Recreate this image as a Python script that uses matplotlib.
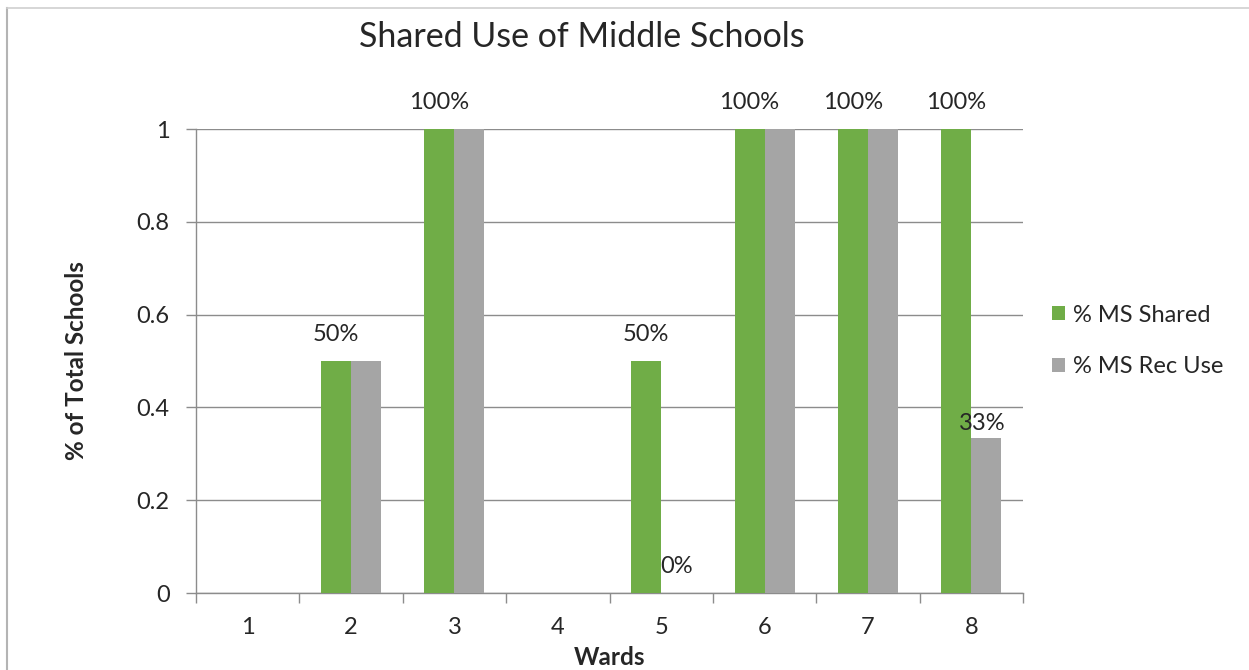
import numpy as np
import matplotlib
matplotlib.use("Agg")
import matplotlib.pyplot as plt
from matplotlib.lines import Line2D
from matplotlib.patches import Patch

plt.rcParams['font.family'] = ['Lato', 'DejaVu Sans']

# Data
wards = ["1", "2", "3", "4", "5", "6", "7", "8"]
ms_shared = [np.nan, 0.5, 1.0, np.nan, 0.5, 1.0, 1.0, 1.0]
ms_rec_use = [np.nan, 0.5, 1.0, np.nan, 0.0, 1.0, 1.0, 1 / 3]
series_names = ["% MS Shared", "% MS Rec Use"]
# which values carry a percentage label
shared_labelled = [False, True, True, False, True, True, True, True]
rec_labelled = [False, False, False, False, True, False, False, True]
y_ticks = [0, 0.2, 0.4, 0.6, 0.8, 1.0]
y_tick_labels = ["0", "0.2", "0.4", "0.6", "0.8", "1"]

green = "#70AD47"
grey = "#A5A5A5"
grid_col = "#8C8C8C"
text_col = "#262626"
fs = 17

W, H = 1249, 670
fig = plt.figure(figsize=(W / 100, H / 100), dpi=100)
ax = fig.add_axes([196 / W, 1 - 593 / H, (1023 - 196) / W, (593 - 129) / H])

x = np.arange(len(wards))
bw = 0.29
ax.bar(x - bw / 2, np.nan_to_num(ms_shared), bw, color=green, label=series_names[0], zorder=3)
ax.bar(x + bw / 2, np.nan_to_num(ms_rec_use), bw, color=grey, label=series_names[1], zorder=3)

ax.set_xlim(-0.5, len(wards) - 0.5)
ax.set_ylim(0, 1)
ax.set_yticks(y_ticks)
ax.set_yticklabels(y_tick_labels)
ax.yaxis.grid(True, color=grid_col, linewidth=1.0, zorder=0)
ax.set_axisbelow(True)

# category boundaries as major ticks, labels on minor ticks
ax.set_xticks(np.arange(-0.5, len(wards), 1.0))
ax.set_xticklabels([])
ax.set_xticks(x, minor=True)
ax.set_xticklabels(wards, minor=True)
ax.tick_params(axis='x', which='major', length=7, width=1, color=grid_col, direction='out')
ax.tick_params(axis='x', which='minor', length=0, pad=17, labelsize=fs, labelcolor=text_col)
ax.tick_params(axis='y', length=7, width=1, color=grid_col, direction='out', pad=12,
               labelsize=fs, labelcolor=text_col)

for side in ("top", "right"):
    ax.spines[side].set_visible(False)
for side in ("left", "bottom"):
    ax.spines[side].set_color(grid_col)
    ax.spines[side].set_linewidth(1.0)

# value labels
for xi, v, show in zip(x, ms_shared, shared_labelled):
    if show:
        ax.annotate(f"{v:.0%}", (xi - bw / 2, v), xytext=(0, 19), textcoords="offset points",
                    ha="center", va="center", fontsize=fs, color=text_col)
for xi, v, show in zip(x, ms_rec_use, rec_labelled):
    if show:
        off = (0, 19) if v == 0 else (-3, 11)
        ax.annotate(f"{v:.0%}", (xi + bw / 2, v), xytext=off, textcoords="offset points",
                    ha="center", va="center", fontsize=fs, color=text_col)

ax.set_ylabel("% of Total Schools", fontsize=17.5, fontweight="bold", color=text_col, labelpad=35)
ax.set_xlabel("Wards", fontsize=17.5, fontweight="bold", color=text_col, labelpad=6)

fig.text(582 / W, 1 - 37 / H, "Shared Use of Middle Schools", ha="center", va="center",
         fontsize=24.5, color=text_col)

handles = [Patch(facecolor=green), Patch(facecolor=grey)]
fig.legend(handles, series_names, loc="center left", bbox_to_anchor=(1052 / W, 1 - 341 / H),
           frameon=False, fontsize=fs, handlelength=0.55, handleheight=0.55, handletextpad=0.35,
           labelspacing=1.3, labelcolor=text_col, borderpad=0, borderaxespad=0)

# outer chart border (top and left edges)
fig.add_artist(Line2D([7 / W, 7 / W], [0, 1 - 8 / H], transform=fig.transFigure,
                      color="#B4B4B4", linewidth=1.5))
fig.add_artist(Line2D([7 / W, 1], [1 - 8 / H, 1 - 8 / H], transform=fig.transFigure,
                      color="#D0D0D0", linewidth=1.2))

fig.savefig("out.png", dpi=100, facecolor="white")
